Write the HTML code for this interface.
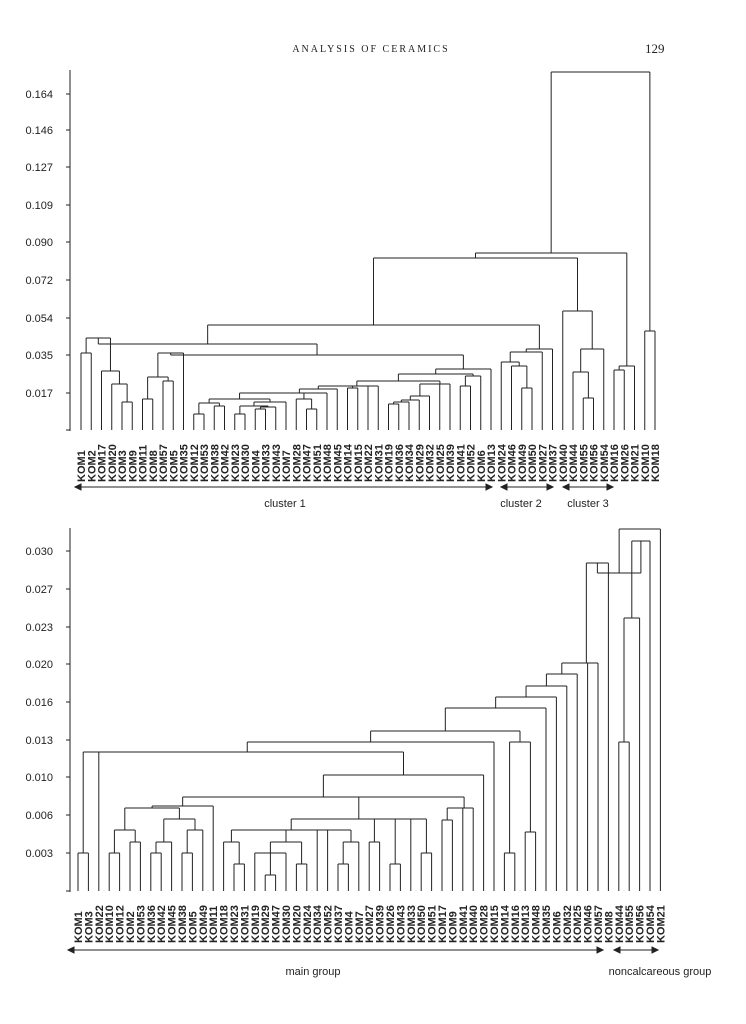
<!DOCTYPE html>
<html><head><meta charset="utf-8"><style>
html,body{margin:0;padding:0;background:#fff;}
svg{display:block;}
.t{font-family:"Liberation Sans",sans-serif;font-weight:bold;font-size:11px;fill:#222;}
.k{font-family:"Liberation Sans",sans-serif;font-size:10px;fill:#222;}
</style></head><body>
<svg id="s" width="746" height="1024" viewBox="0 0 746 1024" xmlns="http://www.w3.org/2000/svg">
<text x="371" y="52" text-anchor="middle" font-family="Liberation Serif,serif" font-size="10" letter-spacing="2" fill="#222">ANALYSIS OF CERAMICS</text>
<text x="645" y="53" font-family="Liberation Serif,serif" font-size="13" fill="#222">129</text>
<g id="g" stroke="#222" stroke-width="1" fill="none"></g>
<g id="tx"></g>
</svg>
<script>
var NS="http://www.w3.org/2000/svg";
var g=document.getElementById('g'),tx=document.getElementById('tx');
function L(x1,y1,x2,y2){var l=document.createElementNS(NS,'line');l.setAttribute('x1',x1);l.setAttribute('y1',y1);l.setAttribute('x2',x2);l.setAttribute('y2',y2);g.appendChild(l);}
function T(x,y,s,cls,rot,anchor){var t=document.createElementNS(NS,'text');t.setAttribute('x',x);t.setAttribute('y',y);t.setAttribute('class',cls);if(anchor)t.setAttribute('text-anchor',anchor);if(rot)t.setAttribute('transform','rotate(-90 '+x+' '+y+')');t.textContent=s;tx.appendChild(t);}
function draw(n,xf,base){
 if(typeof n==='number')return {x:xf(n),y:base};
 var y=n[n.length-1],ks=n.slice(0,-1).map(function(c){return draw(c,xf,base);});
 var mn=1e9,mx=-1e9;ks.forEach(function(k){L(k.x,k.y,k.x,y);mn=Math.min(mn,k.x);mx=Math.max(mx,k.x);});
 L(mn,y,mx,y);return {x:(mn+mx)/2,y:y};
}
// ---- TOP ----
var topLabels="KOM1 KOM2 KOM17 KOM20 KOM3 KOM9 KOM11 KOM8 KOM57 KOM5 KOM35 KOM12 KOM53 KOM38 KOM42 KOM23 KOM30 KOM4 KOM33 KOM43 KOM7 KOM28 KOM47 KOM51 KOM48 KOM45 KOM14 KOM15 KOM22 KOM31 KOM19 KOM36 KOM34 KOM29 KOM32 KOM25 KOM39 KOM41 KOM52 KOM6 KOM13 KOM24 KOM46 KOM49 KOM50 KOM27 KOM37 KOM40 KOM44 KOM55 KOM56 KOM54 KOM16 KOM26 KOM21 KOM10 KOM18".split(' ');
var xt=function(i){return 81+10.25*i;};
var A=[[0,1,353],[2,[3,[4,5,402],384],371],338];
var B=[[[6,7,399],[8,9,381],377],10,353];
var n1=[[11,12,414],[13,14,406],403];
var n2=[[[15,16,414],[[17,18,409],19,407],406],20,402];
var n3=[n1,n2,399];
var n4=[n3,[21,[22,23,409],399],393];
var n5=[[n4,24,393],25,389];
var n7=[[n5,[26,27,388],386],28,29,386];
var m=[[[[30,31,404],32,402],33,400],34,396];
var m2=[[m,35,384],36,384];
var C=[[[n7,m2,381],[[37,38,386],39,376],374],40,369];
var BC=[B,C,355],ABC=[A,BC,344];
var C2=[[[41,[42,[43,44,388],366],362],45,352],46,349];
var Lg=[ABC,C2,325];
var C3=[47,[[48,[49,50,398],372],51,349],311];
var K=[[52,53,370],54,366];
var M=[Lg,C3,258],N=[M,K,253];
draw([N,[55,56,331],72],xt,430);
L(70,70,70,431);
[["0.164",94],["0.146",130],["0.127",167],["0.109",205],["0.090",242],["0.072",280],["0.054",318],["0.035",355],["0.017",393]].forEach(function(a){L(66,a[1],70,a[1]);T(53,a[1]+4,a[0],'k',0,'end');});
L(66,430,70,430);
topLabels.forEach(function(s,i){T(xt(i)+4,482,s,'t',1);});
// ---- BOTTOM ----
var botLabels="KOM1 KOM3 KOM22 KOM10 KOM12 KOM2 KOM53 KOM36 KOM42 KOM45 KOM38 KOM5 KOM49 KOM11 KOM18 KOM23 KOM31 KOM19 KOM29 KOM47 KOM30 KOM20 KOM24 KOM34 KOM52 KOM37 KOM4 KOM7 KOM27 KOM39 KOM26 KOM43 KOM33 KOM50 KOM51 KOM17 KOM9 KOM41 KOM40 KOM28 KOM15 KOM14 KOM16 KOM13 KOM48 KOM35 KOM6 KOM32 KOM25 KOM46 KOM57 KOM8 KOM44 KOM55 KOM56 KOM54 KOM21".split(' ');
var xb=function(i){return 78+10.4*i;};
var T1=[[0,1,853],2,752];
var G1=[[[3,4,853],[5,6,842],830],[[[7,8,853],9,842],[[10,11,853],12,830],819],808];
var G2=[G1,13,806];
var g14=[14,[15,16,864],842];
var g17=[[17,[18,19,875],20,853],[21,22,864],842];
var g830=[g14,g17,23,24,[[25,26,864],27,842],830];
var H=[g830,[28,29,842],[30,31,864],32,[33,34,853],819];
var W=[[[35,36,820],37,808],38,808];
var Y=[G2,H,W,797],X=[Y,39,775],P1=[T1,X,752],P2=[P1,40,742];
var Q=[[41,42,853],[43,44,832],742];
var Rr=[P2,Q,731];
var S1=[Rr,45,708],S2=[S1,46,697],S3=[S2,47,686],S4=[S3,48,674],S5=[S4,49,663],S6=[S5,50,663];
var S7=[S6,51,563];
var U=[[[52,53,742],54,618],55,541];
draw([[S7,U,573],56,529],xb,891);
L(70,528,70,892);
[["0.030",551],["0.027",589],["0.023",627],["0.020",664],["0.016",702],["0.013",740],["0.010",777],["0.006",815],["0.003",853]].forEach(function(a){L(66,a[1],70,a[1]);T(53,a[1]+4,a[0],'k',0,'end');});
L(66,891,70,891);
botLabels.forEach(function(s,i){T(xb(i)+4,943,s,'t',1);});
// arrows
function arrow(x1,x2,y){L(x1,y,x2,y);
 var p=document.createElementNS(NS,'path');p.setAttribute('d','M'+x1+' '+y+' l6 -3 v6 z M'+x2+' '+y+' l-6 -3 v6 z');p.setAttribute('fill','#222');g.appendChild(p);}
arrow(75,492,487);arrow(501,553,487);arrow(563,613,487);
arrow(68,603,950);arrow(614,658,950);
T(285,507,'cluster 1','k',0,'middle');T(521,507,'cluster 2','k',0,'middle');T(588,507,'cluster 3','k',0,'middle');
T(313,975,'main group','k',0,'middle');T(660,975,'noncalcareous group','k',0,'middle');
Array.prototype.forEach.call(tx.querySelectorAll('.k'),function(e){e.style.fontSize='11px';});
</script>
</body></html>
